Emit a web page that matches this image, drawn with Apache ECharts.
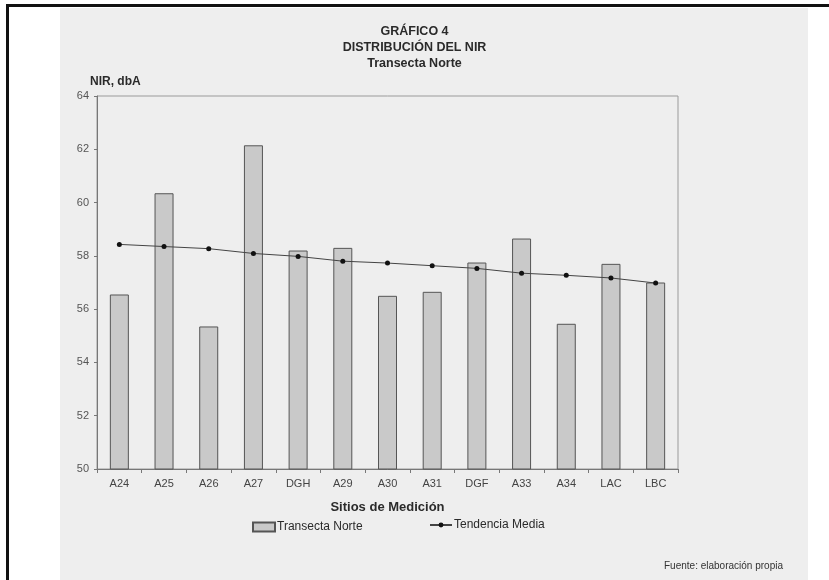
<!DOCTYPE html>
<html>
<head>
<meta charset="utf-8">
<script src="https://cdn.jsdelivr.net/npm/echarts@6/dist/echarts.min.js"></script>
<style>
  html, body { margin: 0; padding: 0; background: #ffffff; }
  #chart { width: 829px; height: 580px; }
</style>
</head>
<body>
<div id="chart"></div>
<script>
// Measurement sites along the northern transect
const sites = ['A24', 'A25', 'A26', 'A27', 'DGH', 'A29', 'A30', 'A31', 'DGF', 'A33', 'A34', 'LAC', 'LBC'];
// NIR level per site, dbA
const nirNorte = [56.55, 60.35, 55.35, 62.15, 58.2, 58.3, 56.5, 56.65, 57.75, 58.65, 55.45, 57.7, 57.0];
// Mean trend line
const tendenciaMedia = [58.43, 58.35, 58.27, 58.09, 57.98, 57.8, 57.73, 57.63, 57.53, 57.35, 57.27, 57.17, 56.98];
// Y axis range
const yMin = 50, yMax = 64, yStep = 2;

const FONT = '"Liberation Sans", Arial, sans-serif';
const chart = echarts.init(document.getElementById('chart'), null, { renderer: 'canvas' });

chart.setOption({
  animation: false,
  backgroundColor: '#ffffff',
  textStyle: { fontFamily: FONT },
  graphic: [
    // page tone
    { type: 'rect', z: -10, silent: true, shape: { x: 60, y: 8, width: 748, height: 572 }, style: { fill: '#eeeeee' } },
    // frame lines
    { type: 'rect', z: -5, silent: true, shape: { x: 6, y: 4, width: 823, height: 3 }, style: { fill: '#111111' } },
    { type: 'rect', z: -5, silent: true, shape: { x: 6, y: 4, width: 3, height: 576 }, style: { fill: '#111111' } },
    { type: 'text', left: 664, top: 561, style: { text: 'Fuente: elaboración propia', fontFamily: FONT, fontSize: 10, fill: '#333' } }
  ],
  title: {
    text: 'GRÁFICO 4\nDISTRIBUCIÓN DEL NIR\nTransecta Norte',
    left: 'center',
    top: 19,
    textStyle: { fontFamily: FONT, fontSize: 12.5, fontWeight: 'bold', color: '#2a2a2a', lineHeight: 16 }
  },
  legend: [
    {
      data: ['Transecta Norte'],
      icon: 'rect',
      left: 247, top: 516,
      itemWidth: 22, itemHeight: 9, itemGap: 4,
      textStyle: { fontFamily: FONT, fontSize: 12, color: '#2a2a2a', padding: [0, 0, 0, -3] }
    },
    {
      data: ['Tendencia Media'],
      left: 424, top: 514,
      itemWidth: 22, itemHeight: 6,
      textStyle: { fontFamily: FONT, fontSize: 12, color: '#2a2a2a', padding: [0, 0, 0, -3] }
    }
  ],
  grid: {
    left: 97, right: 151, top: 96, bottom: 111,
    show: true, borderColor: '#9a9a9a', borderWidth: 1, backgroundColor: 'transparent'
  },
  xAxis: {
    type: 'category',
    data: sites,
    boundaryGap: true,
    axisLine: { lineStyle: { color: '#777', width: 1 } },
    axisTick: { show: true, length: 4, lineStyle: { color: '#777' } },
    axisLabel: { fontFamily: FONT, fontSize: 11, color: '#444', margin: 9 },
    name: 'Sitios de Medición',
    nameLocation: 'middle',
    nameGap: 32,
    nameTextStyle: { fontFamily: FONT, fontSize: 13, fontWeight: 'bold', color: '#2a2a2a' }
  },
  yAxis: {
    type: 'value',
    min: yMin, max: yMax, interval: yStep,
    axisLine: { show: true, lineStyle: { color: '#777', width: 1 } },
    axisTick: { show: true, length: 3, lineStyle: { color: '#777' } },
    splitLine: { show: false },
    axisLabel: { fontFamily: FONT, fontSize: 11, color: '#555', margin: 8 },
    name: 'NIR, dbA',
    nameLocation: 'end',
    nameGap: 14,
    nameTextStyle: { fontFamily: FONT, fontSize: 12, fontWeight: 'bold', color: '#2a2a2a', align: 'left', verticalAlign: 'middle', padding: [0, 0, 0, -7] }
  },
  series: [
    {
      name: 'Transecta Norte',
      type: 'bar',
      data: nirNorte,
      barWidth: 19,
      itemStyle: { color: '#c9c9c9', borderColor: '#555555', borderWidth: 1 }
    },
    {
      name: 'Tendencia Media',
      type: 'line',
      data: tendenciaMedia,
      symbol: 'circle',
      symbolSize: 5,
      lineStyle: { color: '#444444', width: 1 },
      itemStyle: { color: '#111111' },
      z: 3
    }
  ]
});
</script>
</body>
</html>
